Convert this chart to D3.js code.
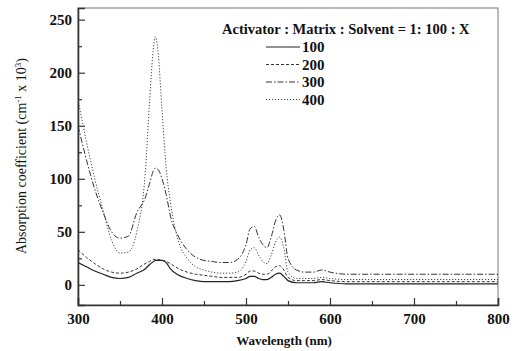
<!DOCTYPE html>
<html>
<head>
<meta charset="utf-8">
<script src="https://cdn.jsdelivr.net/npm/d3@7"></script>
<style>
  body { margin: 0; background: #fff; }
  text { font-family: "Liberation Serif", "DejaVu Serif", serif; }
</style>
</head>
<body>
<svg id="chart" width="517" height="351"></svg>
<script>
// wavelengths (nm) shared by all series
const wavelength = [300, 310, 320, 330, 340, 350, 360, 370, 380, 385, 390, 392, 395, 400, 405, 410, 420, 430, 440, 450,
    460, 470, 480, 490, 500, 505, 510, 515, 520, 525, 530, 535, 540, 545, 550, 560, 570, 580, 590, 600,
    620, 650, 700, 750, 800];

const s100 = [21, 17, 13, 10, 7, 6, 7, 11, 15, 19, 22, 23, 23, 23, 21, 15, 9, 6, 4, 3,
    3, 3, 3, 4, 6, 8, 8, 6, 5, 5, 7, 10, 11, 8, 4, 2, 2, 2, 3, 2,
    1, 1, 1, 1, 1];
const s200 = [33, 26, 20, 15, 12, 11, 12, 15, 20, 22, 24, 24, 24, 23, 22, 20, 15, 12, 10, 9,
    8, 7, 7, 7, 10, 13, 13, 11, 10, 10, 13, 17, 18, 14, 7, 4, 4, 4, 5, 4,
    3, 3, 3, 3, 3];
const s300 = [150, 118, 90, 68, 50, 44, 46, 68, 82, 95, 108, 110, 109, 100, 85, 65, 45, 33, 26, 23,
    22, 21, 21, 24, 38, 53, 55, 45, 38, 35, 45, 60, 66, 52, 25, 14, 12, 12, 14, 12,
    10, 10, 10, 10, 10];
const s400 = [175, 135, 100, 70, 42, 30, 31, 50, 105, 170, 225, 234, 222, 165, 110, 78, 40, 25, 17, 14,
    12, 11, 11, 12, 22, 33, 35, 28, 22, 20, 28, 40, 45, 35, 12, 6, 6, 6, 7, 6,
    5, 5, 5, 5, 5];

const seriesNames = ["100", "200", "300", "400"];
const seriesValues = [s100, s200, s300, s400];
const legendTitle = "Activator : Matrix : Solvent = 1: 100 : X";
const xTicks = [300, 400, 500, 600, 700, 800];
const yTicks = [0, 50, 100, 150, 200, 250];

const dashes = [null, "3,2", "6,2,1.5,2", "1.2,1.8"];
const strokes = ["#222", "#333", "#333", "#444"];

let svg = d3.select("#chart");
let margin = {left: 78, right: 19, top: 8, bottom: 46};
let width = 517 - margin.left - margin.right;
let height = 351 - margin.top - margin.bottom;

let xScale = d3.scaleLinear().domain([300, 800]).range([margin.left, margin.left + width]);
let yScale = d3.scaleLinear().domain([-19, 261]).range([margin.top + height, margin.top]);

// frame (top and right)
svg.append("rect")
    .attr("x", margin.left)
    .attr("y", margin.top)
    .attr("width", width)
    .attr("height", height)
    .attr("fill", "none")
    .attr("stroke", "#777")
    .attr("stroke-width", 1);

// minor ticks
let xAxisMinor = d3.axisBottom(xScale).tickValues(d3.range(350, 800, 100)).tickSize(-4).tickFormat("");
let yAxisMinor = d3.axisLeft(yScale).tickValues(d3.range(25, 250, 50)).tickSize(-4).tickFormat("");

let xAxis = d3.axisBottom(xScale).tickValues(xTicks).tickSize(-7).tickPadding(8);
let yAxis = d3.axisLeft(yScale).tickValues(yTicks).tickSize(-7).tickPadding(6);

let gx = svg.append("g").attr("transform", `translate(0,${margin.top + height})`).call(xAxis);
svg.append("g").attr("transform", `translate(0,${margin.top + height})`).call(xAxisMinor)
    .select(".domain").remove();
let gy = svg.append("g").attr("transform", `translate(${margin.left},0)`).call(yAxis);
svg.append("g").attr("transform", `translate(${margin.left},0)`).call(yAxisMinor)
    .select(".domain").remove();

[gx, gy].forEach(g => {
    g.select(".domain").attr("stroke", "#333").attr("stroke-width", 1.6);
    g.selectAll("text")
        .attr("fill", "#111")
        .style("font-size", "15px")
        .style("font-weight", "bold");
});
svg.selectAll(".tick line").attr("stroke", "#333").attr("stroke-width", 1.2);

// curves
let line = d3.line()
    .x((d, i) => xScale(wavelength[i]))
    .y(d => yScale(d))
    .curve(d3.curveMonotoneX);

svg.append("clipPath").attr("id", "plotClip")
    .append("rect")
    .attr("x", margin.left).attr("y", margin.top)
    .attr("width", width).attr("height", height);

svg.append("g")
    .attr("clip-path", "url(#plotClip)")
    .selectAll("path")
    .data(seriesValues)
    .enter()
    .append("path")
    .attr("d", d => line(d))
    .attr("fill", "none")
    .attr("stroke", (d, i) => strokes[i])
    .attr("stroke-width", (d, i) => i === 0 ? 1.2 : 1)
    .attr("stroke-dasharray", (d, i) => dashes[i]);

// legend
let legend = svg.append("g");
legend.append("text")
    .attr("x", 222)
    .attr("y", 34)
    .style("font-size", "14.5px")
    .style("font-weight", "bold")
    .attr("fill", "#111")
    .text(legendTitle);

seriesNames.forEach((name, i) => {
    let y = 47 + i * 17.5;
    legend.append("line")
        .attr("x1", 266).attr("x2", 300)
        .attr("y1", y).attr("y2", y)
        .attr("stroke", strokes[i])
        .attr("stroke-width", 1)
        .attr("stroke-dasharray", dashes[i]);
    legend.append("text")
        .attr("x", 302)
        .attr("y", y + 5)
        .style("font-size", "15px")
        .style("font-weight", "bold")
        .attr("fill", "#111")
        .text(name);
});

// axis titles
svg.append("text")
    .attr("x", 284)
    .attr("y", 345)
    .attr("text-anchor", "middle")
    .style("font-size", "13px")
    .style("font-weight", "bold")
    .attr("fill", "#111")
    .text("Wavelength (nm)");

let yt = svg.append("text")
    .attr("transform", "translate(26,156) rotate(-90)")
    .attr("text-anchor", "middle")
    .style("font-size", "14px")
    .attr("fill", "#111");
yt.append("tspan").text("Absorption coefficient (cm");
yt.append("tspan").attr("dy", -5).style("font-size", "9px").text("-1");
yt.append("tspan").attr("dy", 5).text(" x 10");
yt.append("tspan").attr("dy", -5).style("font-size", "9px").text("3");
yt.append("tspan").attr("dy", 5).text(")");
</script>
</body>
</html>
